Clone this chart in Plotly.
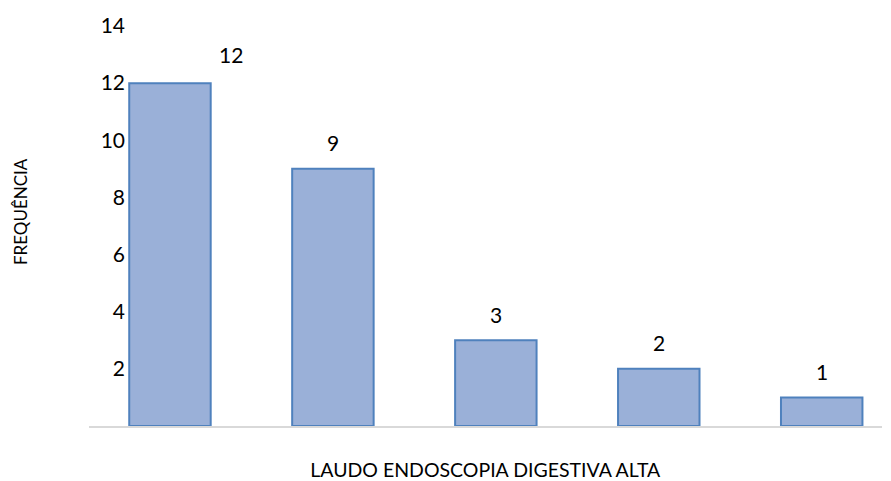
import plotly.graph_objects as go

# Frequency of each upper digestive endoscopy finding
categories = ["Achado 1", "Achado 2", "Achado 3", "Achado 4", "Achado 5"]
frequencies = [12, 9, 3, 2, 1]
y_ticks = [2, 4, 6, 8, 10, 12, 14]

FONT = "Lato, Carlito, 'Liberation Sans', sans-serif"
BAR_FILL = "#9AB0D8"
BAR_EDGE = "#4F81BD"

# plot area spans 20..882 px; the category axis starts at 88.5 px and the
# value labels sit just left of the first bar
PLOT_L, PLOT_R = 20, 882
X_START = (88.5 - PLOT_L) / (PLOT_R - PLOT_L)
Y_POS = (125 - PLOT_L) / (PLOT_R - PLOT_L)

fig = go.Figure()
fig.add_trace(go.Bar(
    x=categories,
    y=frequencies,
    marker=dict(color=BAR_FILL, line=dict(color=BAR_EDGE, width=2)),
    width=0.5,
    hoverinfo="x+y",
))

# value labels above the bars (the tallest one nudged right, clear of the top)
label_xshift = [61, 0, 0, 0, 0]
label_yshift = [29, 26, 26, 26, 26]
for cat, val, dx, dy in zip(categories, frequencies, label_xshift, label_yshift):
    fig.add_annotation(
        x=cat, y=val, text=str(val), showarrow=False,
        xshift=dx, yshift=dy, font=dict(family=FONT, size=21, color="#000000"),
    )

fig.add_annotation(
    text="FREQUÊNCIA", textangle=-90, showarrow=False,
    xref="paper", yref="paper", x=0.0, y=0.535, xanchor="center", yanchor="middle",
    font=dict(family=FONT, size=17, color="#000000"),
)

fig.update_layout(
    width=891, height=481,
    margin=dict(l=PLOT_L, r=891 - PLOT_R, t=26, b=55, autoexpand=False),
    paper_bgcolor="white", plot_bgcolor="white",
    showlegend=False,
    font=dict(family=FONT, size=20, color="#000000"),
    xaxis=dict(
        domain=[X_START, 1],
        range=[-0.5, 4.37],
        automargin=False,
        showticklabels=False, ticks="",
        showline=True, linecolor="#D9D9D9", linewidth=2,
        showgrid=False, zeroline=False,
        title=dict(text="LAUDO ENDOSCOPIA DIGESTIVA ALTA", standoff=43,
                   font=dict(family=FONT, size=19.5)),
    ),
    yaxis=dict(
        anchor="free", position=Y_POS,
        automargin=False,
        range=[0, 14], tickvals=y_ticks,
        showline=False, showgrid=False, zeroline=False, ticks="",
        ticklabelstandoff=0,
        tickfont=dict(family=FONT, size=21),
    ),
)

fig.write_html("out.html")
